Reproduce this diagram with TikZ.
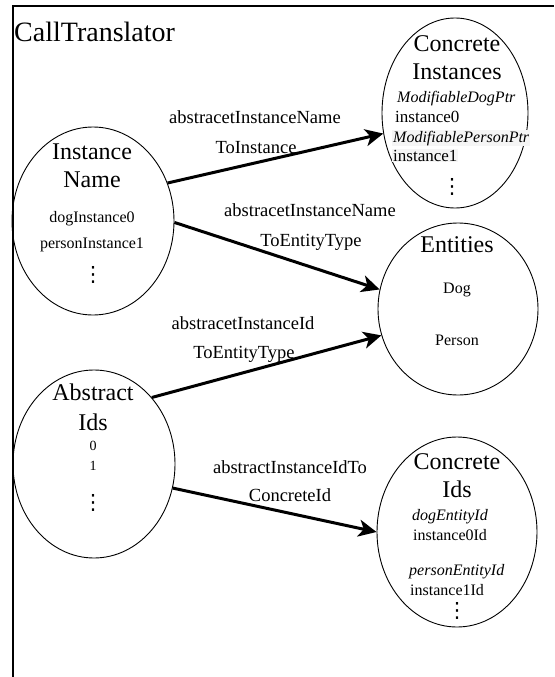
\documentclass[tikz,border=0pt]{standalone}
\usepackage{fontspec}
\setmainfont{Liberation Serif}
\newfontfamily\symbolfont{DejaVu Sans}
\usetikzlibrary{shapes.geometric,arrows.meta}

\begin{document}
\begin{tikzpicture}[x=1pt,y=-1pt,
  setnode/.style={draw, ellipse, line width=0.9pt, inner sep=0pt},
  settitle/.style={anchor=base, inner sep=0pt, font=\fontsize{24}{28}\selectfont},
  entry/.style={anchor=base, inner sep=0pt, font=\fontsize{16}{19}\selectfont},
  entryleft/.style={entry, anchor=base west},
  typename/.style={entryleft, font=\fontsize{16}{19}\selectfont\itshape},
  shaded/.style={fill=black!4, inner sep=1pt},
  dotsnode/.style={inner sep=0pt, font=\symbolfont\fontsize{21}{24}\selectfont},
  maplabel/.style={anchor=base, inner sep=0pt, font=\fontsize{18.5}{22}\selectfont},
  mapping/.style={line width=3pt, -{Stealth[length=18pt,width=17pt,inset=5pt]}},
  frameline/.style={line width=2pt}
]
\useasboundingbox (0,0) rectangle (554,677);

% outer frame (top and left edges)
\draw[frameline] (12.5,677) -- (12.5,6.5) -- (554,6.5);
\node[anchor=base west, inner sep=0pt, font=\fontsize{28}{31}\selectfont] (title) at (14,42) {CallTranslator};

% sets
\node[setnode, minimum width=162pt, minimum height=188pt] (iname) at (93,221) {};
\node[setnode, minimum width=162pt, minimum height=188pt] (aids) at (94,464) {};
\node[setnode, minimum width=146pt, minimum height=190pt] (cinst) at (455,113) {};
\node[setnode, minimum width=160pt, minimum height=172pt] (ent) at (458,309) {};
\node[setnode, minimum width=160pt, minimum height=190pt] (cids) at (457,532) {};

% Instance Name contents
\node[settitle] (iname1) at (92,159) {Instance};
\node[settitle] (iname2) at (92,187) {Name};
\node[entry] (iname3) at (92,222) {dogInstance0};
\node[entry] (iname4) at (92,248) {personInstance1};
\node[dotsnode] (iname5) at (93,275) {⋮};

% Abstract Ids contents
\node[settitle] (aids1) at (93,400) {Abstract};
\node[settitle] (aids2) at (93,430) {Ids};
\node[entry, font=\fontsize{14}{17}\selectfont] (aids3) at (93,450) {0};
\node[entry, font=\fontsize{14}{17}\selectfont] (aids4) at (93,470) {1};
\node[dotsnode] (aids5) at (93,503) {⋮};

% Concrete Instances contents
\node[settitle] (cinst1) at (457,52) {Concrete};
\node[settitle] (cinst2) at (457,80) {Instances};
\node[typename] (cinst3) at (397,102) {ModifiableDogPtr};
\node[entryleft, font=\fontsize{17}{20}\selectfont] (cinst4) at (395,122) {instance0};
\node[typename, shaded] (cinst5) at (392,142) {ModifiablePersonPtr};
\node[entryleft, shaded, font=\fontsize{17}{20}\selectfont] (cinst6) at (392,161) {instance1};
\node[dotsnode] (cinst7) at (452,187) {⋮};

% Entities contents
\node[settitle] (ent1) at (457,252) {Entities};
\node[entry] (ent2) at (457,293) {Dog};
\node[entry] (ent3) at (457,345) {Person};

% Concrete Ids contents
\node[settitle] (cids1) at (457,469) {Concrete};
\node[settitle] (cids2) at (457,497) {Ids};
\node[typename] (cids3) at (412,520) {dogEntityId};
\node[entryleft] (cids4) at (413,540) {instance0Id};
\node[typename] (cids5) at (409,575) {personEntityId};
\node[entryleft] (cids6) at (410,595) {instance1Id};
\node[dotsnode] (cids7) at (457,611) {⋮};

% mapping labels
\node[maplabel] (m1a) at (255,123) {abstracetInstanceName};
\node[maplabel] (m1b) at (256,153) {ToInstance};
\node[maplabel] (m2a) at (310,216) {abstracetInstanceName};
\node[maplabel] (m2b) at (311,246) {ToEntityType};
\node[maplabel] (m3a) at (243,329) {abstracetInstanceId};
\node[maplabel] (m3b) at (244,358) {ToEntityType};
\node[maplabel] (m4a) at (290,473) {abstractInstanceIdTo};
\node[maplabel] (m4b) at (290,501) {ConcreteId};

% mappings
\draw[mapping] (iname.27) -- (cinst.196);
\draw[mapping] (iname.-1) -- (ent.166);
\draw[mapping] (aids.49) -- (ent.199);
\draw[mapping] (aids.-17) -- (cids.180);
\end{tikzpicture}
\end{document}
